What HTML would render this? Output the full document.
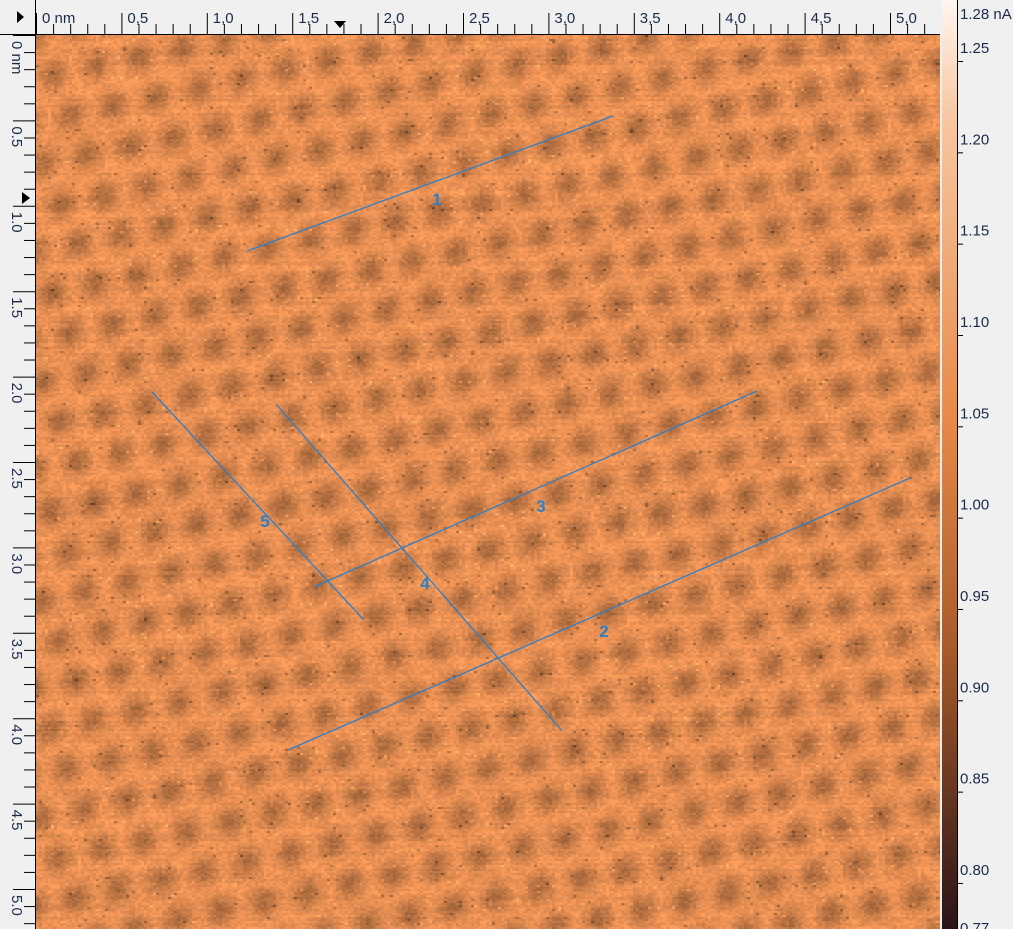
<!DOCTYPE html>
<html><head><meta charset="utf-8"><style>
body{margin:0;width:1013px;height:929px;overflow:hidden;background:#f0f0f0;font-family:"Liberation Sans",sans-serif;position:relative}
#img{position:absolute;left:36px;top:35px}
svg{position:absolute;left:0;top:0}
</style></head><body>
<canvas id="img" width="904" height="894"></canvas>
<svg id="ov" width="1013" height="929">
<defs><linearGradient id="cb" x1="0" y1="0" x2="0" y2="1">
<stop offset="0" stop-color="#fff6f0"/><stop offset="0.12" stop-color="#f8c8a4"/><stop offset="0.45" stop-color="#e88a48"/><stop offset="0.7" stop-color="#a85a2a"/><stop offset="1" stop-color="#2a1418"/></linearGradient></defs>
<rect x="942" y="0" width="15" height="929" fill="url(#cb)"/>
<line x1="957.5" y1="0" x2="957.5" y2="929" stroke="#000"/>
<line x1="0" y1="34.5" x2="940" y2="34.5" stroke="#000"/>
<line x1="35.5" y1="0" x2="35.5" y2="929" stroke="#000"/>
<g id="ticks"></g>
<polygon points="17,11 17,23 24,17" fill="#000"/>
<polygon points="334,21 346,21 340,28" fill="#000"/>
<polygon points="22,192 22,204 30,198" fill="#000"/>
<g id="prof" stroke="#2f7fc6" stroke-width="1.3" fill="#2f7fc6" font-size="17" font-weight="bold"></g>
</svg>
<script>
const cbValues=[1.25,1.20,1.15,1.10,1.05,1.00,0.95,0.90,0.85,0.80];
const cbLabels=["1.25","1.20","1.15","1.10","1.05","1.00","0.95","0.90","0.85","0.80"];
const xTickNm=[0,0.5,1.0,1.5,2.0,2.5,3.0,3.5,4.0,4.5,5.0];
const xTickLabels=["0 nm","0,5","1,0","1,5","2,0","2,5","3,0","3,5","4,0","4,5","5,0"];
const yTickLabels=["0 nm","0.5","1.0","1.5","2.0","2.5","3.0","3.5","4.0","4.5","5.0"];
const profX1=[247,288,314,276,152],profY1=[251,750,587,404,392];
const profX2=[613,910,757,562,364],profY2=[116,478,391,731,620];
const profLabels=["1","2","3","4","5"],profLX=[437,604,541,425,265],profLY=[205,637,512,589,527];
const NS="http://www.w3.org/2000/svg";
const xs=nm=>36+nm*170.8, ys=nm=>35+nm*170.8, cy=v=>61+(1.25-v)/0.05*91.33;
const g=document.getElementById('ticks');
function mk(t,a,p){const e=document.createElementNS(NS,t);for(const k in a)e.setAttribute(k,a[k]);(p||g).appendChild(e);return e;}
for(let i=0;i<=52;i++){const nm=i*0.1,x=xs(nm)+0.5;if(x>940)break;const maj=i%5==0;
 mk('line',{x1:x,y1:maj?13:24,x2:x,y2:34,stroke:'#000'});
 const y=ys(nm)+0.5;if(y<929)mk('line',{x1:maj?13:24,y1:y,x2:35,y2:y,stroke:'#000'});}
xTickNm.forEach((nm,i)=>{const t=mk('text',{x:xs(nm)+6,y:23,'font-size':'15',fill:'#1a2a4a'});t.textContent=xTickLabels[i];
 
 const yy=ys(nm)+6;const u=mk('text',{x:0,y:0,'font-size':'15',fill:'#1a2a4a',transform:`translate(12,${yy}) rotate(90)`});u.textContent=yTickLabels[i];
 });
cbValues.forEach((v,i)=>{const y=cy(v);mk('line',{x1:957,y1:y+0.5,x2:963,y2:y+0.5,stroke:'#000'});
 const t=mk('text',{x:960,y:y-8,'font-size':'15',fill:'#1a2a4a'});t.textContent=cbLabels[i];
 });
let t=mk('text',{x:960,y:19,'font-size':'15',fill:'#1a2a4a'});t.textContent="1.28 nA";

t=mk('text',{x:960,y:933,'font-size':'15',fill:'#1a2a4a'});t.textContent="0.77";

const pg=document.getElementById('prof');
profLabels.forEach((l,i)=>{const ln=mk('line',{x1:profX1[i],y1:profY1[i],x2:profX2[i],y2:profY2[i]},pg);
 
 const tx=mk('text',{x:profLX[i],y:profLY[i],stroke:'none','text-anchor':'middle'},pg);tx.textContent=l;
 });
// texture
const c=document.getElementById('img'),ctx=c.getContext('2d');const W=904,H=894;
let s=12345;const rnd=()=>{s=(s*1103515245+12345)&0x7fffffff;return s/0x7fffffff;};
const im=ctx.createImageData(W,H),d=im.data;
const a1=[43,-9],a2=[17,40];const det=a1[0]*a2[1]-a1[1]*a2[0];
for(let y=0;y<H;y+=2){const rowOff=(rnd()-0.5)*16;for(let x=0;x<W;x+=3){
 const xx=x+rnd()*3,yy=y+rnd()*2;
 const u=(xx*a2[1]-yy*a2[0])/det,v=(yy*a1[0]-xx*a1[1])/det;
 const fu=u-Math.round(u),fv=v-Math.round(v);
 // elongated along a diagonal
 const p1=fu+fv*0.6,p2=fv-fu*0.3;
 const spot=Math.exp(-(p1*p1*9+p2*p2*7));
 let n=(rnd()-0.5)*40+rowOff;if(rnd()<0.01)n-=70;if(rnd()<0.01)n+=50;
 let k=1.04-spot*0.30+n/255;
 const r=Math.min(255,232*k),gg=144*k,b=84*k;
 for(let dy=0;dy<2&&y+dy<H;dy++)for(let q=0;q<3&&x+q<W;q++){const p=((y+dy)*W+x+q)*4;d[p]=r;d[p+1]=gg;d[p+2]=b;d[p+3]=255;}}}
ctx.putImageData(im,0,0);
</script>
</body></html>
